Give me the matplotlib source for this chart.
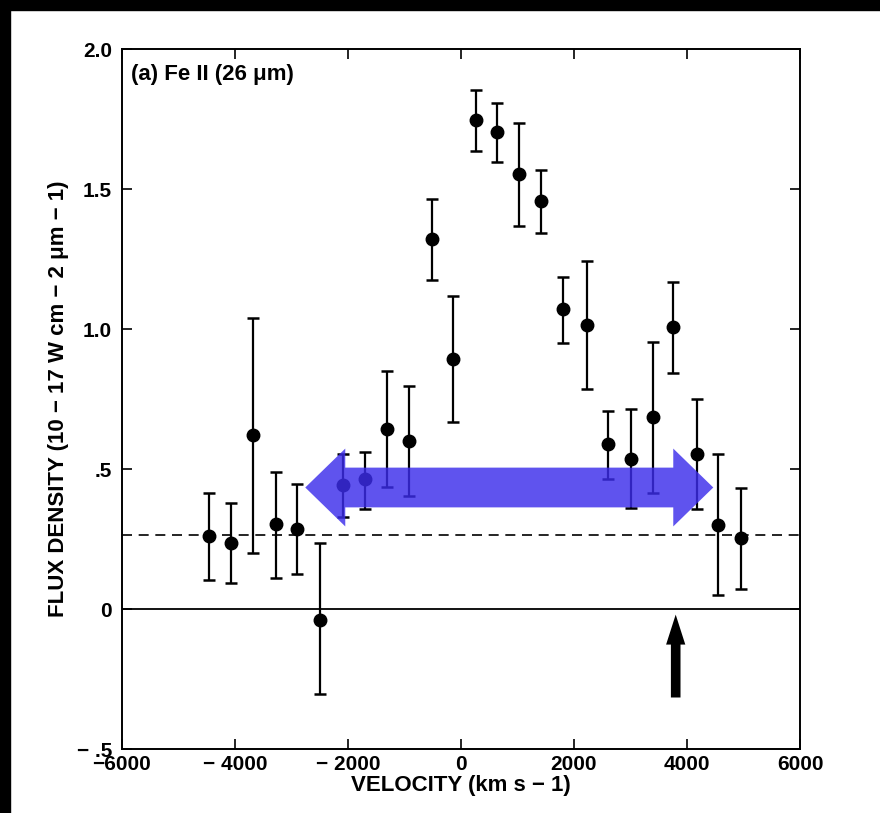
import numpy as np
import matplotlib
matplotlib.use("Agg")
import matplotlib.pyplot as plt
from matplotlib.patches import Rectangle

# Fe II 26 micron line profile
velocity = [-4455, -4071, -3687, -3274, -2897, -2496, -2094, -1693, -1304, -915,
            -519, -147, 265, 631, 1032, 1421, 1811, 2236, 2607, 3003,
            3393, 3758, 4171, 4554, 4950]
flux = [0.261, 0.237, 0.623, 0.302, 0.287, -0.038, 0.442, 0.463, 0.643, 0.599,
        1.322, 0.893, 1.747, 1.702, 1.552, 1.457, 1.070, 1.014, 0.591, 0.535,
        0.685, 1.009, 0.553, 0.300, 0.253]
flux_hi = [0.415, 0.377, 1.041, 0.490, 0.448, 0.235, 0.553, 0.559, 0.849, 0.795,
           1.466, 1.118, 1.854, 1.809, 1.735, 1.569, 1.186, 1.243, 0.709, 0.713,
           0.955, 1.168, 0.751, 0.553, 0.431]
flux_lo = [0.102, 0.093, 0.199, 0.110, 0.126, -0.305, 0.327, 0.358, 0.434, 0.404,
           1.175, 0.668, 1.637, 1.596, 1.367, 1.343, 0.949, 0.786, 0.463, 0.360,
           0.416, 0.842, 0.358, 0.051, 0.071]
continuum = 0.265

x_ticks = [-6000, -4000, -2000, 0, 2000, 4000, 6000]
x_ticklabels = ["\u22126000", "\u2212 4000", "\u2212 2000", "0", "2000", "4000", "6000"]
y_ticks = [-0.5, 0.0, 0.5, 1.0, 1.5, 2.0]
y_ticklabels = ["\u2212 .5", "0", ".5", "1.0", "1.5", "2.0"]

# highlighted velocity range (double arrow) and marker arrow
span_left, span_right, span_level = -2756, 4465, 0.434
marker_v = 3800

plt.rcParams["font.family"] = ["Liberation Sans", "DejaVu Sans"]
plt.rcParams["font.weight"] = "bold"

fig = plt.figure(figsize=(8.8, 8.13), dpi=100)
ax = fig.add_axes([0.1386, 0.0787, 0.7705, 0.861])

v = np.array(velocity)
f = np.array(flux)
yerr = np.vstack([f - np.array(flux_lo), np.array(flux_hi) - f])
ax.errorbar(v, f, yerr=yerr, fmt="o", color="black", markersize=9,
            elinewidth=1.6, capsize=4.2, capthick=1.8, zorder=3)

ax.axhline(0, color="black", lw=1.3, zorder=1)
ax.axhline(continuum, color="black", lw=1.2, ls=(0, (6, 4)), zorder=1)

ax.set_xlim(-6000, 6000)
ax.set_ylim(-0.5, 2.0)
ax.set_xticks(x_ticks)
ax.set_xticklabels(x_ticklabels)
ax.set_yticks(y_ticks)
ax.set_yticklabels(y_ticklabels)
ax.tick_params(direction="in", length=7, width=1.2, top=True, right=True,
               labelsize=15, pad=7)
ax.tick_params(axis="x", pad=4)
for s in ax.spines.values():
    s.set_linewidth(1.4)

ax.set_xlabel("VELOCITY (km s \u2212 1)", fontsize=16, fontweight="bold", labelpad=1)
ax.set_ylabel("FLUX DENSITY (10 \u2212 17 W cm \u2212 2 \u03bcm \u2212 1)",
              fontsize=16, fontweight="bold", labelpad=6)

ax.text(0.013, 0.963, "(a) Fe II (26 \u03bcm)", transform=ax.transAxes,
        fontsize=16, fontweight="bold", va="center", ha="left")

# translucent double-headed arrow
head_len = 708
body_half = 0.071
head_half = 0.139
xs = [span_left, span_left + head_len, span_left + head_len,
      span_right - head_len, span_right - head_len, span_right,
      span_right - head_len, span_right - head_len,
      span_left + head_len, span_left + head_len]
ys = [span_level, span_level + head_half, span_level + body_half,
      span_level + body_half, span_level + head_half, span_level,
      span_level - head_half, span_level - body_half,
      span_level - body_half, span_level - head_half]
ax.fill(xs, ys, color="#3c2deb", alpha=0.82, lw=0, zorder=4)

# solid up arrow below the zero line
ax.arrow(marker_v, -0.316, 0, 0.296, width=170, head_width=340,
         head_length=0.107, length_includes_head=True,
         color="black", lw=0, zorder=4)

# dark edge strips
fig.patches.append(Rectangle((0, 0), 10 / 880, 1, transform=fig.transFigure,
                             color="black", zorder=10))
fig.patches.append(Rectangle((0, 1 - 10 / 813), 1, 10 / 813, transform=fig.transFigure,
                             color="black", zorder=10))

fig.savefig("out.png", dpi=100)
